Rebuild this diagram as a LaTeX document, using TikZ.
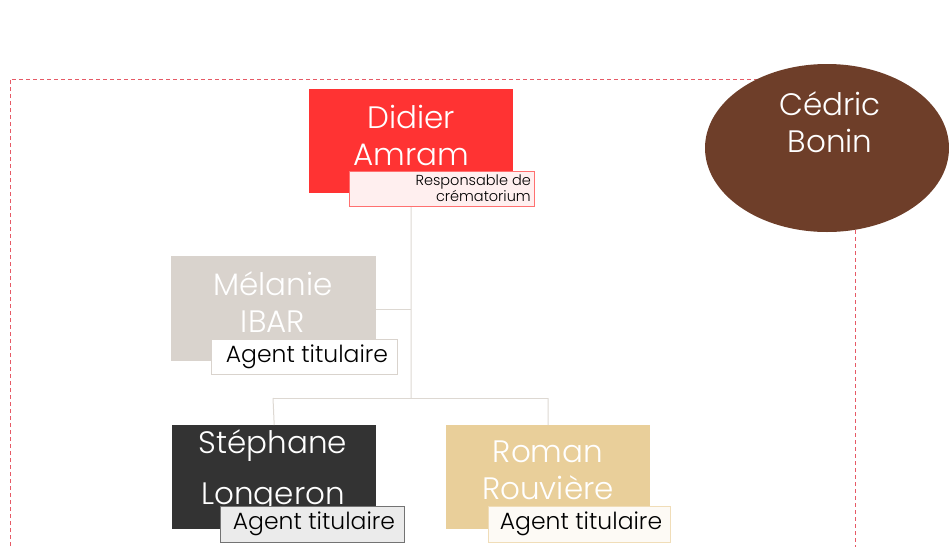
\documentclass[tikz,border=0pt]{standalone}
\usepackage{fontspec}
\usetikzlibrary{shapes.geometric}
\setmainfont{Poppins}[UprightFont=* Light]
\begin{document}
\begin{tikzpicture}[x=1pt,y=-1pt,
  box/.style={anchor=north west,inner sep=0pt},
  nametext/.style={text=white,align=center,font=\fontsize{31}{37}\selectfont},
  sub/.style={anchor=north west,inner sep=0pt,line width=1pt},
  subt/.style={font=\fontsize{23.5}{26}\selectfont},
  link/.style={draw=linkc,line width=1pt}]
\definecolor{redc}{HTML}{FF3333}
\definecolor{beigec}{HTML}{D9D3CD}
\definecolor{darkc}{HTML}{333333}
\definecolor{goldc}{HTML}{E9CF9A}
\definecolor{brownc}{HTML}{6E3E29}
\definecolor{linkc}{HTML}{DDD8D2}
\definecolor{dashc}{HTML}{E03040}
\useasboundingbox (0,0) rectangle (949,546);
% dashed frame
\draw[dashc!80,line width=1pt,dash pattern=on 4pt off 3pt] (10,560) -- (10,79) -- (855,79) -- (855,560);
% connectors
\coordinate (j1) at (411,309);
\coordinate (j2) at (411,398);
\coordinate (jl) at (273,398);
\coordinate (jr) at (548,398);
% boxes
\node[box,fill=redc,minimum width=204pt,minimum height=104pt] (didier) at (309,89) {};
\node[nametext] (didiert) at (411,135) {Didier\\Amram};
\node[box,fill=beigec,minimum width=205pt,minimum height=105pt] (melanie) at (171,256) {};
\node[nametext] (melaniet) at (273,302) {Mélanie\\IBAR};
\node[box,fill=darkc,minimum width=204pt,minimum height=104pt] (stephane) at (172,425) {};
\node[nametext,font=\fontsize{31}{51}\selectfont] (stephanet) at (273,471) {Stéphane\\Longeron};
\node[box,fill=goldc,minimum width=204pt,minimum height=104pt] (roman) at (446,425) {};
\node[nametext] (romant) at (548,470) {Roman\\Rouvière};
\draw[link] (didier.south) -- (j2);
\draw[link] (j1) -- (melanie.east |- j1);
\draw[link] (jl) -- (jr);
\draw[link] (jl) -- (stephane.north);
\draw[link] (jr) -- (roman.north);
% subtitles
\node[sub,draw=redc!70,fill=redc!8,minimum width=185pt,minimum height=35pt] (didiers) at (349,171) {};
\node[anchor=east,inner sep=0pt,align=right,font=\fontsize{14.5}{16}\selectfont] (didierst) at (531,188.5) {Responsable de\\crématorium};
\node[sub,draw=beigec,fill=white,minimum width=186pt,minimum height=35pt] (melanies) at (211,339) {};
\node[subt] (melaniest) at (307,356.5) {Agent titulaire};
\node[sub,draw=black!55,fill=black!8,minimum width=184pt,minimum height=36pt] (stephanes) at (220,506) {};
\node[subt] (stephanest) at (314,524) {Agent titulaire};
\node[sub,draw=goldc!70,fill=goldc!10,minimum width=182pt,minimum height=36pt] (romans) at (488,506) {};
\node[subt] (romanst) at (581,524) {Agent titulaire};
% circle
\node[ellipse,fill=brownc,minimum width=244pt,minimum height=168pt,inner sep=0pt] (cedric) at (827,148) {};
\node[nametext] (cedrict) at (830,122) {Cédric\\Bonin};
\end{tikzpicture}
\end{document}
